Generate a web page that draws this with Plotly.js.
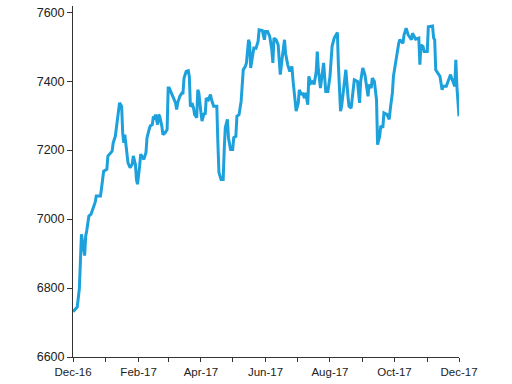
<!DOCTYPE html>
<html>
<head>
<meta charset="utf-8">
<script src="https://cdn.plot.ly/plotly-3.0.1.min.js"></script>
<style>
html,body{margin:0;padding:0;background:#fff;}
#chart{width:512px;height:384px;}
</style>
</head>
<body>
<div id="chart"></div>
<script>
const dates = [
"2016-12-01","2016-12-05","2016-12-07","2016-12-08","2016-12-09","2016-12-12","2016-12-13","2016-12-14","2016-12-15","2016-12-16",
"2016-12-18","2016-12-20","2016-12-22","2016-12-23","2016-12-27","2016-12-28","2016-12-30","2017-01-02","2017-01-03","2017-01-07",
"2017-01-08","2017-01-10","2017-01-11","2017-01-12","2017-01-13","2017-01-14","2017-01-15","2017-01-16","2017-01-17","2017-01-18",
"2017-01-19","2017-01-20","2017-01-21","2017-01-22","2017-01-24","2017-01-26","2017-01-27","2017-01-29","2017-01-30","2017-01-31",
"2017-02-02","2017-02-03","2017-02-05","2017-02-06","2017-02-08","2017-02-09","2017-02-11","2017-02-12","2017-02-14","2017-02-15",
"2017-02-16","2017-02-17","2017-02-19","2017-02-20","2017-02-21","2017-02-23","2017-02-24","2017-02-26","2017-02-28","2017-03-01",
"2017-03-02","2017-03-04","2017-03-06","2017-03-08","2017-03-09","2017-03-10","2017-03-12","2017-03-14","2017-03-15","2017-03-16",
"2017-03-18","2017-03-20","2017-03-21","2017-03-22","2017-03-24","2017-03-25","2017-03-26","2017-03-28","2017-03-29","2017-03-30",
"2017-04-01","2017-04-02","2017-04-04","2017-04-05","2017-04-06","2017-04-08","2017-04-10","2017-04-11","2017-04-13","2017-04-16",
"2017-04-17","2017-04-18","2017-04-20","2017-04-22","2017-04-23","2017-04-24","2017-04-26","2017-04-27","2017-04-29","2017-05-01",
"2017-05-02","2017-05-04","2017-05-05","2017-05-07","2017-05-09","2017-05-10","2017-05-11","2017-05-13","2017-05-14","2017-05-16",
"2017-05-17","2017-05-18","2017-05-20","2017-05-21","2017-05-23","2017-05-25","2017-05-26","2017-05-29","2017-05-31","2017-06-01",
"2017-06-03","2017-06-05","2017-06-07","2017-06-08","2017-06-09","2017-06-11","2017-06-13","2017-06-14","2017-06-15","2017-06-17",
"2017-06-19","2017-06-20","2017-06-22","2017-06-24","2017-06-26","2017-06-27","2017-06-29","2017-06-30","2017-07-02","2017-07-03",
"2017-07-05","2017-07-06","2017-07-08","2017-07-09","2017-07-11","2017-07-12","2017-07-14","2017-07-16","2017-07-17","2017-07-19",
"2017-07-20","2017-07-21","2017-07-23","2017-07-25","2017-07-26","2017-07-28","2017-07-30","2017-08-01","2017-08-03","2017-08-05",
"2017-08-08","2017-08-09","2017-08-11","2017-08-12","2017-08-14","2017-08-16","2017-08-18","2017-08-19","2017-08-21","2017-08-23",
"2017-08-24","2017-08-27","2017-08-29","2017-08-30","2017-09-01","2017-09-03","2017-09-06","2017-09-07","2017-09-09","2017-09-10",
"2017-09-12","2017-09-14","2017-09-15","2017-09-17","2017-09-18","2017-09-20","2017-09-21","2017-09-24","2017-09-26","2017-09-27",
"2017-09-29","2017-09-30","2017-10-02","2017-10-03","2017-10-05","2017-10-06","2017-10-09","2017-10-10","2017-10-12","2017-10-14",
"2017-10-15","2017-10-17","2017-10-18","2017-10-20","2017-10-21","2017-10-24","2017-10-25","2017-10-26","2017-10-28","2017-10-29",
"2017-11-01","2017-11-02","2017-11-06","2017-11-07","2017-11-08","2017-11-09","2017-11-11","2017-11-13","2017-11-15","2017-11-16",
"2017-11-19","2017-11-21","2017-11-23","2017-11-24","2017-11-27","2017-11-28","2017-11-29","2017-12-01"
];
const values = [
6731,6745,6798,6913,6956,6894,6951,6966,6991,7009,
7014,7029,7049,7067,7067,7090,7139,7144,7183,7197,
7221,7240,7265,7289,7308,7337,7332,7327,7250,7221,
7245,7212,7183,7163,7149,7159,7183,7159,7115,7101,
7154,7188,7178,7173,7193,7236,7260,7270,7274,7298,
7289,7303,7274,7303,7298,7270,7245,7250,7260,7380,
7380,7366,7351,7337,7318,7337,7356,7366,7366,7409,
7428,7430,7414,7327,7332,7322,7303,7294,7375,7366,
7308,7284,7308,7303,7351,7346,7361,7346,7327,7327,
7221,7135,7115,7115,7202,7265,7289,7236,7202,7202,
7236,7240,7298,7303,7342,7380,7433,7443,7453,7520,
7510,7438,7481,7496,7495,7515,7549,7547,7520,7544,
7544,7530,7491,7453,7525,7520,7505,7467,7419,7472,
7520,7481,7448,7428,7443,7404,7346,7313,7337,7375,
7361,7366,7351,7366,7332,7414,7394,7399,7390,7428,
7486,7433,7380,7433,7453,7370,7370,7414,7501,7525,
7541,7443,7313,7327,7385,7433,7356,7327,7322,7380,
7404,7399,7337,7399,7438,7419,7356,7390,7380,7409,
7399,7346,7216,7240,7270,7265,7308,7303,7289,7318,
7366,7414,7457,7467,7510,7520,7510,7534,7554,7534,
7530,7520,7539,7525,7522,7525,7448,7505,7501,7486,
7486,7558,7560,7525,7520,7433,7423,7414,7375,7385,
7385,7404,7419,7409,7385,7462,7385,7298
];
const yTicks = [6600, 6800, 7000, 7200, 7400, 7600];

const trace = {
  x: dates,
  y: values,
  type: 'scatter',
  mode: 'lines',
  line: {color: '#1DA1DC', width: 3},
  hoverinfo: 'skip'
};

const layout = {
  width: 512,
  height: 384,
  margin: {l: 73, r: 53, t: 6, b: 27},
  paper_bgcolor: '#ffffff',
  plot_bgcolor: '#ffffff',
  showlegend: false,
  font: {family: 'Liberation Sans, Arial, sans-serif', color: '#222'},
  xaxis: {
    type: 'date',
    range: ['2016-12-01', '2017-12-01'],
    tick0: '2016-12-01',
    dtick: 'M2',
    tickformat: '%b-%y',
    ticks: 'outside',
    ticklen: 4,
    tickcolor: '#333',
    tickwidth: 1,
    showline: true,
    linecolor: '#333',
    linewidth: 1,
    showgrid: false,
    zeroline: false,
    tickfont: {size: 11.5, color: '#222'},
    minor: {dtick: 'M1', ticks: 'outside', ticklen: 4, tickcolor: '#333', tickwidth: 1, showgrid: false}
  },
  yaxis: {
    range: [6600, 7618],
    tickvals: yTicks,
    ticks: 'outside',
    ticklen: 5,
    tickcolor: '#333',
    tickwidth: 1,
    showline: true,
    linecolor: '#333',
    linewidth: 1,
    showgrid: false,
    zeroline: false,
    tickfont: {size: 12.5, color: '#222'}
  }
};

Plotly.newPlot('chart', [trace], layout, {staticPlot: true, displayModeBar: false});
</script>
</body>
</html>
